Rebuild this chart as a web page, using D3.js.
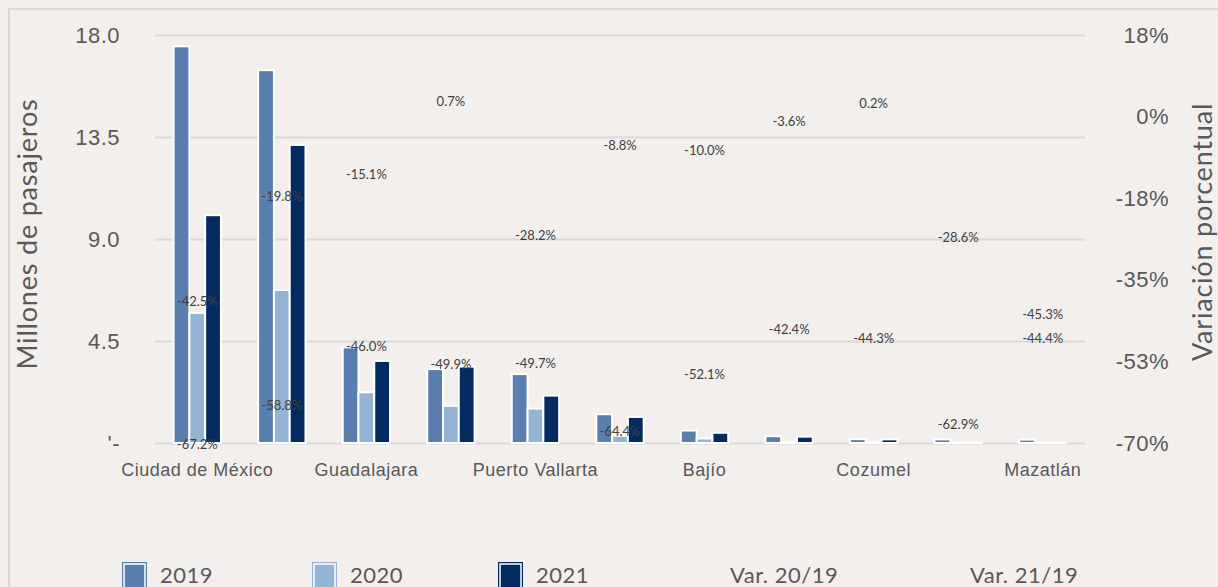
<!DOCTYPE html>
<html lang="es">
<head>
    <meta charset="UTF-8">
    <title>Pasajeros por aeropuerto</title>
    <script src="https://d3js.org/d3.v7.min.js"></script>
    <style>
        body { margin: 0; background: #f3efec; }
        svg { display: block; font-family: Lato, "Open Sans", sans-serif; }
        .tick line { stroke: #d9d9d9; }
    </style>
</head>
<body>
    <div class="BarChart"></div>

    <script>
        // Data
        const airports = ["Ciudad de México", "Cancún", "Guadalajara", "Tijuana", "Puerto Vallarta",
            "Los Cabos", "Bajío", "Hermosillo", "Cozumel", "Huatulco", "Mazatlán"];
        const years = ["2019", "2020", "2021"];
        const pax2019 = [17.5, 16.45, 4.22, 3.26, 3.04, 1.27, 0.55, 0.3, 0.17, 0.16, 0.15];
        const pax2020 = [5.74, 6.75, 2.24, 1.64, 1.52, 0.32, 0.2, 0.05, 0.04, 0.02, 0.02];
        const pax2021 = [10.05, 13.15, 3.62, 3.37, 2.09, 1.15, 0.45, 0.28, 0.16, 0.03, 0.02];
        const var2019_20 = [-67.2, -58.8, -46.0, -49.9, -49.7, -64.4, -52.1, -42.4, -44.3, -62.9, -44.4];
        const var2019_21 = [-42.5, -19.8, -15.1, 0.7, -28.2, -8.8, -10.0, -3.6, 0.2, -28.6, -45.3];
        const leftTicks = [0, 4.5, 9, 13.5, 18];
        const rightTicks = [17.6, 0, -17.6, -35.2, -52.8, -70.4];

        const colors = ["#5a7fae", "#95b4d5", "#042b60"];
        const series = [pax2019, pax2020, pax2021];

        const svgWidth = 1218;
        const svgHeight = 587;
        const margin = { top: 35, right: 133, bottom: 144, left: 155 };
        const width = svgWidth - margin.left - margin.right;
        const height = svgHeight - margin.top - margin.bottom;

        const root = d3.select('.BarChart')
            .append('svg')
            .attr('width', svgWidth)
            .attr('height', svgHeight);

        root.append('rect')
            .attr('x', 9).attr('y', 9)
            .attr('width', 1300).attr('height', 700)
            .attr('fill', 'none')
            .attr('stroke', '#dcd8d5')
            .attr('stroke-width', 2);

        const svg = root.append('g')
            .attr('transform', `translate(${margin.left},${margin.top})`);

        // Scales
        const x0 = d3.scaleBand()
            .domain(airports)
            .range([0, width])
            .paddingInner(0.44)
            .paddingOuter(0.22);

        const x1 = d3.scaleBand()
            .domain(years)
            .range([0, x0.bandwidth()]);

        const y = d3.scaleLinear()
            .domain([0, 18])
            .range([height, 0]);

        const y2 = d3.scaleLinear()
            .domain([-70.4, 17.6])
            .range([height, 0]);

        // plain hyphen instead of unicode minus
        const pct1 = v => v.toFixed(1) + '%';

        // Grid
        svg.append('g')
            .call(d3.axisLeft(y).tickValues(leftTicks).tickSize(-width).tickFormat(''))
            .call(g => g.select('.domain').remove())
            .call(g => g.selectAll('.tick line').attr('stroke', '#d9d9d9').attr('stroke-width', 2));

        // Left axis
        svg.append('g')
            .call(d3.axisLeft(y).tickValues(leftTicks).tickSize(0).tickPadding(35)
                .tickFormat(d => d === 0 ? "'-" : d.toFixed(1)))
            .call(g => g.select('.domain').remove())
            .call(g => g.selectAll('text')
                .attr('font-size', 22).attr('fill', '#595959').attr('font-family', null)
                .attr('letter-spacing', 0.5));

        // Right axis
        svg.append('g')
            .attr('transform', `translate(${width},0)`)
            .call(d3.axisRight(y2).tickValues(rightTicks).tickSize(0)
                .tickFormat(d => Math.round(d).toString() + '%'))
            .call(g => g.select('.domain').remove())
            .call(g => g.selectAll('text')
                .attr('x', 84).attr('text-anchor', 'end')
                .attr('font-size', 22).attr('fill', '#595959').attr('font-family', null)
                .attr('letter-spacing', 0.5));

        // Bottom axis (every other label)
        svg.append('g')
            .attr('transform', `translate(0,${height})`)
            .call(d3.axisBottom(x0).tickSize(0).tickPadding(20)
                .tickFormat((d, i) => i % 2 === 0 ? d : ''))
            .call(g => g.select('.domain').remove())
            .call(g => g.selectAll('text')
                .attr('font-size', 18).attr('fill', '#595959').attr('font-family', null)
                .attr('letter-spacing', 0.5));

        // Bars
        const groups = svg.selectAll('.group')
            .data(airports)
            .enter().append('g')
            .attr('transform', d => `translate(${x0(d)},0)`);

        groups.selectAll('rect')
            .data((d, i) => years.map((yr, k) => ({ yr, v: series[k][i], c: colors[k] })))
            .enter().append('rect')
            .attr('x', d => x1(d.yr))
            .attr('y', d => y(d.v))
            .attr('width', x1.bandwidth())
            .attr('height', d => height - y(d.v))
            .attr('fill', d => d.c)
            .attr('stroke', '#ffffff')
            .attr('stroke-width', 2);

        // Variation labels
        const center = d => x0(d) + x0.bandwidth() / 2;

        svg.selectAll('.v20')
            .data(airports)
            .enter().append('text')
            .attr('x', d => center(d))
            .attr('y', (d, i) => y2(var2019_20[i]) + 21)
            .attr('text-anchor', 'middle')
            .attr('font-size', 13)
            .attr('fill', '#404040')
            .text((d, i) => pct1(var2019_20[i]));

        svg.selectAll('.v21')
            .data(airports)
            .enter().append('text')
            .attr('x', d => center(d))
            .attr('y', (d, i) => y2(var2019_21[i]) - 7.5)
            .attr('text-anchor', 'middle')
            .attr('font-size', 13)
            .attr('fill', '#404040')
            .text((d, i) => pct1(var2019_21[i]));

        // Axis titles
        root.append('text')
            .attr('transform', 'translate(37,234) rotate(-90)')
            .attr('text-anchor', 'middle')
            .attr('font-size', 27)
            .attr('letter-spacing', 0.8)
            .attr('fill', '#595959')
            .text('Millones de pasajeros');

        root.append('text')
            .attr('transform', 'translate(1212,232) rotate(-90)')
            .attr('text-anchor', 'middle')
            .attr('font-size', 27)
            .attr('letter-spacing', 0.8)
            .attr('fill', '#595959')
            .text('Variación porcentual');

        // Legend
        const legendItems = [
            { name: '2019', c: colors[0], x: 122 },
            { name: '2020', c: colors[1], x: 312 },
            { name: '2021', c: colors[2], x: 498 },
            { name: 'Var. 20/19', c: null, x: 692 },
            { name: 'Var. 21/19', c: null, x: 932 }
        ];

        const legend = root.selectAll('.legend')
            .data(legendItems)
            .enter().append('g')
            .attr('transform', d => `translate(${d.x},562)`);

        legend.filter(d => d.c)
            .append('rect')
            .attr('x', 0.5).attr('y', 0.5)
            .attr('width', 24).attr('height', 30)
            .attr('fill', d => d.c)
            .attr('stroke', d => d.c);

        legend.filter(d => d.c)
            .append('rect')
            .attr('x', 2).attr('y', 2)
            .attr('width', 21).attr('height', 30)
            .attr('fill', d => d.c)
            .attr('stroke', '#ffffff')
            .attr('stroke-width', 1.5);

        legend.append('text')
            .attr('x', 38)
            .attr('y', 21)
            .attr('font-size', 22)
            .attr('letter-spacing', 0.5)
            .attr('fill', '#595959')
            .text(d => d.name);
    </script>
</body>
</html>
